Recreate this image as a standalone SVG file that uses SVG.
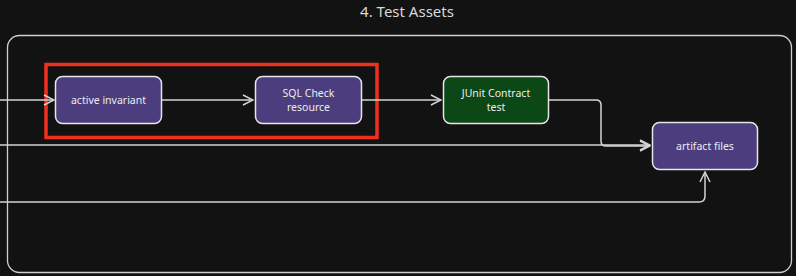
<svg xmlns="http://www.w3.org/2000/svg" width="796" height="276" viewBox="0 0 796 276">
<style>
.node rect{stroke:#e6e6e6;stroke-width:1.5}
.purple{fill:#4b3d7e}
.green{fill:#0c4716}
.lbl{font-family:"Noto Sans","Liberation Sans",sans-serif;font-size:10.5px;fill:#ececec;text-anchor:middle}
.edge{fill:none;stroke:#d4d4d4;stroke-width:1.5}
</style>
<defs>
<marker id="arr" viewBox="0 0 12 12" refX="11" refY="6" markerWidth="12" markerHeight="12" markerUnits="userSpaceOnUse" orient="auto">
<path d="M1,1 L11,6 L1,11" fill="none" stroke="#d4d4d4" stroke-width="1.5"/>
</marker>
</defs>
<rect width="796" height="276" fill="#121212"/>
<text x="407" y="17" font-family="Noto Sans,Liberation Sans,sans-serif" font-size="15" fill="#d8d8d8" text-anchor="middle">4. Test Assets</text>
<g id="container">
<rect x="7.5" y="35.5" width="784" height="237" rx="12" fill="none" stroke="#cfcfcf" stroke-width="1.3"/>
</g>
<g id="highlight">
<rect x="46" y="64.5" width="331" height="73" fill="none" stroke="#f0301c" stroke-width="3.5"/>
</g>
<g id="connectors">
<path class="edge" d="M0,100 H54" marker-end="url(#arr)"/>
<path class="edge" d="M162,100 H253" marker-end="url(#arr)"/>
<path class="edge" d="M362,100 H441" marker-end="url(#arr)"/>
<path class="edge" d="M549,100 H596 Q601,100 601,105 V141 Q601,146 606,146 H650" marker-end="url(#arr)"/>
<path class="edge" d="M0,145 H650" marker-end="url(#arr)"/>
<path class="edge" d="M0,202 H699 Q705,202 705,196 V172" marker-end="url(#arr)"/>
</g>
<g id="active-invariant" class="node">
<rect class="purple" x="55.5" y="76.5" width="106" height="47" rx="7"/>
<text class="lbl" x="108.5" y="104">active invariant</text>
</g>
<g id="sql-check" class="node">
<rect class="purple" x="255.5" y="76.5" width="106" height="47" rx="7"/>
<text class="lbl" x="308.5" y="97">SQL Check</text>
<text class="lbl" x="308.5" y="111">resource</text>
</g>
<g id="junit" class="node">
<rect class="green" x="443.5" y="76.5" width="105" height="47" rx="7"/>
<text class="lbl" x="496" y="97">JUnit Contract</text>
<text class="lbl" x="496" y="111">test</text>
</g>
<g id="artifact-files" class="node">
<rect class="purple" x="652.5" y="122.5" width="105" height="47" rx="7"/>
<text class="lbl" x="705" y="150">artifact files</text>
</g>
</svg>
